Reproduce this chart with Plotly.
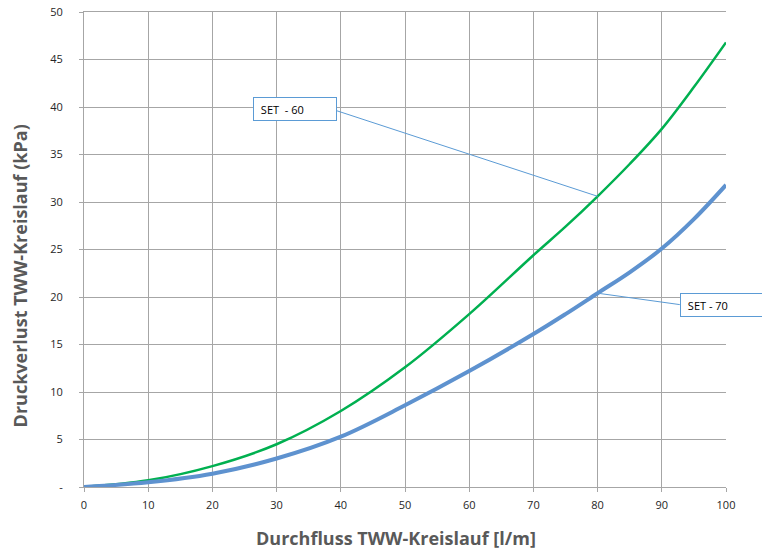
import plotly.graph_objects as go

flow = [0, 10, 20, 30, 40, 50, 60, 70, 75, 80, 85, 90, 95, 100]
set60 = [0, 0.7, 2.2, 4.5, 8.0, 12.6, 18.2, 24.4, 27.4, 30.6, 34.0, 37.7, 42.1, 46.8]
set70 = [0, 0.5, 1.4, 3.0, 5.3, 8.6, 12.2, 16.1, 18.2, 20.4, 22.6, 25.1, 28.2, 31.8]
yticks = [0, 5, 10, 15, 20, 25, 30, 35, 40, 45, 50]
ytext = ["-", "5", "10", "15", "20", "25", "30", "35", "40", "45", "50"]
xticks = [0, 10, 20, 30, 40, 50, 60, 70, 80, 90, 100]
x_title = "Durchfluss TWW-Kreislauf [l/m]"
y_title = "Druckverlust TWW-Kreislauf (kPa)"

i80 = flow.index(80)

fig = go.Figure()
fig.add_trace(go.Scatter(x=flow, y=set60, mode="lines", name="SET - 60",
                         line=dict(color="#00B050", width=2.5, shape="spline", smoothing=1)))
fig.add_trace(go.Scatter(x=flow, y=set70, mode="lines", name="SET - 70",
                         line=dict(color="#5E92CF", width=4, shape="spline", smoothing=1)))

# connector lines
fig.add_shape(type="line", xref="x", yref="y", x0=39.4, y0=39.6, x1=flow[i80], y1=set60[i80],
              line=dict(color="#5B9BD5", width=1))
fig.add_shape(type="line", xref="x", yref="y", x0=flow[i80], y0=set70[i80], x1=92.8, y1=19.2,
              line=dict(color="#5B9BD5", width=1))

fig.add_annotation(x=26.3, y=39.8, xref="x", yref="y", xanchor="left", yanchor="middle",
                   text="&nbsp;SET&nbsp; - 60", showarrow=False, align="left",
                   width=74, height=14, borderpad=4, bordercolor="#5B9BD5", borderwidth=1,
                   bgcolor="white", font=dict(family="Open Sans", size=11, color="#000000"))
fig.add_annotation(x=92.8, y=19.2, xref="x", yref="y", xanchor="left", yanchor="middle",
                   text="&nbsp;SET - 70", showarrow=False, align="left",
                   width=90, height=14, borderpad=4, bordercolor="#5B9BD5", borderwidth=1,
                   bgcolor="white", font=dict(family="Open Sans", size=11, color="#000000"))

title_font = dict(family="Open Sans", size=18, color="#595959", weight="bold")
fig.add_annotation(x=0.486, y=-0.107, xref="paper", yref="paper", xanchor="center", yanchor="middle",
                   text=x_title, showarrow=False, font=title_font)
fig.add_annotation(x=-0.1, y=0.445, xref="paper", yref="paper", xanchor="center", yanchor="middle",
                   text=y_title, showarrow=False, textangle=-90, font=title_font)

axis_common = dict(showgrid=True, gridcolor="#A6A6A6", gridwidth=1, zeroline=False,
                   showline=True, linecolor="#A6A6A6", linewidth=1,
                   ticks="outside", tickcolor="#A6A6A6", ticklen=4, automargin=False,
                   ticklabeloverflow="allow",
                   tickfont=dict(family="Open Sans", size=11, color="#262626"))

fig.update_xaxes(range=[0, 100], tickvals=xticks, ticklabelstandoff=4, mirror=True, **axis_common)
fig.update_yaxes(range=[0, 50], tickvals=yticks, ticktext=ytext, ticklabelstandoff=14, mirror=False,
                 **axis_common)

fig.update_layout(width=762, height=552, margin=dict(l=84, r=36, t=12, b=65),
                  plot_bgcolor="white", paper_bgcolor="white", showlegend=False)

fig.write_html("out.html", config={"displayModeBar": False},
               post_script="document.body.style.margin='0';")
